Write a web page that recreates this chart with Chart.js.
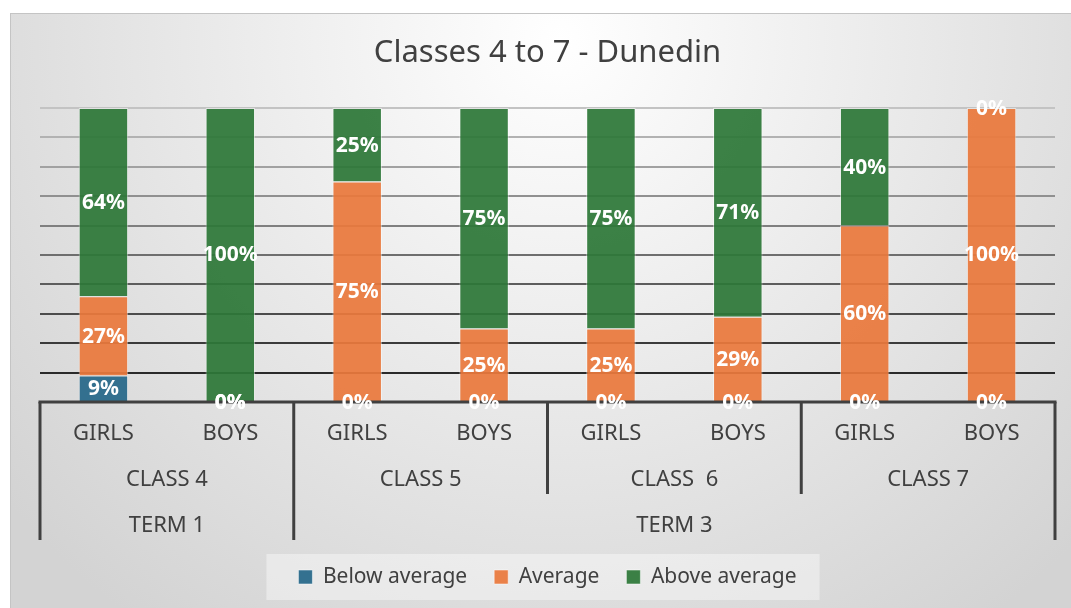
<!DOCTYPE html>
<html>
<head>
<meta charset="utf-8">
<script src="https://cdn.jsdelivr.net/npm/chart.js@4.4.1/dist/chart.umd.min.js"></script>
<style>
  html, body { margin: 0; padding: 0; background: #fff; }
  #wrap { width: 1071px; height: 608px; }
</style>
</head>
<body>
<div id="wrap"><canvas id="chart" width="1071" height="608"></canvas></div>
<script>
const genders = ['GIRLS', 'BOYS', 'GIRLS', 'BOYS', 'GIRLS', 'BOYS', 'GIRLS', 'BOYS'];
const classes = ['CLASS 4', 'CLASS 5', 'CLASS  6', 'CLASS 7'];
const terms = ['TERM 1', 'TERM 3'];
const termSpans = [2, 6]; // bars per term
const belowAverage = [9, 0, 0, 0, 0, 0, 0, 0];
const average = [27, 0, 75, 25, 25, 29, 60, 100];
const aboveAverage = [64, 100, 25, 75, 75, 71, 40, 0];

const TEXT = '#404040';
const FONT = 'Noto Sans';

// grid lines go from light grey at the top to almost black at the bottom
function gridColor(c) {
  const v = c.tick ? c.tick.value : 0;
  const g = Math.round(25 + (v / 100) * 170);
  return `rgb(${g},${g},${g})`;
}

const backgroundPlugin = {
  id: 'bg',
  beforeDraw(chart) {
    const { ctx, width, height } = chart;
    ctx.save();
    ctx.fillStyle = '#fff';
    ctx.fillRect(0, 0, width, height);
    const g = ctx.createRadialGradient(560, 40, 0, 560, 40, 720);
    g.addColorStop(0, '#ffffff');
    g.addColorStop(1, '#d3d3d3');
    ctx.fillStyle = g;
    ctx.fillRect(10.5, 13.5, width, height);
    ctx.strokeStyle = '#c4c4c4';
    ctx.lineWidth = 1;
    ctx.strokeRect(10.5, 13.5, width, height);

    // legend panel
    const boxes = chart.legend.legendHitBoxes;
    if (boxes && boxes.length) {
      const first = boxes[0], last = boxes[boxes.length - 1];
      const cy = first.top + first.height / 2;
      ctx.fillStyle = 'rgba(255,255,255,0.4)';
      ctx.fillRect(first.left - 32, cy - 23, last.left + last.width + 23 - (first.left - 32), 46);
    }
    ctx.restore();
  }
};

const axisPlugin = {
  id: 'multiAxis',
  afterDatasetsDraw(chart) {
    const { ctx, chartArea } = chart;
    const x = chart.scales.x, y = chart.scales.y;
    const step = x.getPixelForValue(1) - x.getPixelForValue(0);
    const edge = i => x.getPixelForValue(i) - step / 2;
    const base = y.getPixelForValue(0);
    const rowH = 46;

    ctx.save();
    ctx.strokeStyle = TEXT;
    ctx.lineWidth = 3;
    ctx.beginPath();
    ctx.moveTo(chartArea.left - 1.5, base);
    ctx.lineTo(chartArea.right + 1.5, base);
    ctx.stroke();

    const termBounds = [0];
    termSpans.forEach(s => termBounds.push(termBounds[termBounds.length - 1] + s));
    for (let b = 0; b <= genders.length; b += 2) {
      const depth = termBounds.includes(b) ? 3 : 2;
      const px = edge(b);
      ctx.beginPath();
      ctx.moveTo(px, base);
      ctx.lineTo(px, base + depth * rowH);
      ctx.stroke();
    }

    ctx.fillStyle = TEXT;
    ctx.font = `22px "${FONT}"`;
    ctx.textAlign = 'center';
    ctx.textBaseline = 'middle';
    genders.forEach((g, i) => ctx.fillText(g, x.getPixelForValue(i), base + 32));
    classes.forEach((c, i) => ctx.fillText(c, (edge(i * 2) + edge(i * 2 + 2)) / 2, base + 78));
    terms.forEach((t, i) => ctx.fillText(t, (edge(termBounds[i]) + edge(termBounds[i + 1])) / 2, base + 124));
    ctx.restore();
  }
};

const labelPlugin = {
  id: 'valueLabels',
  afterDatasetsDraw(chart) {
    const { ctx } = chart;
    ctx.save();
    ctx.fillStyle = '#fff';
    ctx.font = `bold 21px "${FONT}"`;
    ctx.textAlign = 'center';
    ctx.textBaseline = 'middle';
    chart.data.datasets.forEach((ds, i) => {
      chart.getDatasetMeta(i).data.forEach((bar, j) => {
        ctx.fillText(ds.data[j] + '%', bar.x, (bar.y + bar.base) / 2 + 1);
      });
    });
    ctx.restore();
  }
};

const ctx = document.getElementById('chart').getContext('2d');
new Chart(ctx, {
  type: 'bar',
  data: {
    labels: genders,
    datasets: [
      { label: 'Below average', data: belowAverage, backgroundColor: 'rgba(38,103,137,0.93)', borderColor: 'rgba(255,255,255,0.5)', borderWidth: 1 },
      { label: 'Average', data: average, backgroundColor: 'rgba(233,120,60,0.93)', borderColor: 'rgba(255,255,255,0.5)', borderWidth: 1 },
      { label: 'Above average', data: aboveAverage, backgroundColor: 'rgba(45,119,56,0.93)', borderColor: 'rgba(255,255,255,0.5)', borderWidth: 1 }
    ]
  },
  options: {
    responsive: false,
    animation: false,
    layout: { padding: { left: 40, right: 16, top: 0, bottom: 10.5 } },
    datasets: { bar: { categoryPercentage: 1, barPercentage: 0.39 } },
    scales: {
      x: {
        stacked: true,
        ticks: { display: false },
        grid: { display: false },
        border: { display: false },
        afterFit: s => { s.height = 137.5; }
      },
      y: {
        stacked: true,
        min: 0,
        max: 100,
        ticks: { display: false, stepSize: 10 },
        border: { display: false },
        grid: { color: gridColor, lineWidth: 2, drawTicks: false },
        afterFit: s => { s.width = 0; }
      }
    },
    plugins: {
      title: {
        display: true,
        text: 'Classes 4 to 7 - Dunedin',
        color: TEXT,
        font: { family: FONT, size: 31, weight: 'normal' },
        padding: { top: 34.2, bottom: 36.6 }
      },
      legend: {
        position: 'bottom',
        labels: { color: TEXT, font: { family: FONT, size: 21 }, boxWidth: 14, boxHeight: 14, padding: 27 }
      },
      tooltip: { enabled: false }
    }
  },
  plugins: [backgroundPlugin, axisPlugin, labelPlugin]
});
</script>
</body>
</html>
